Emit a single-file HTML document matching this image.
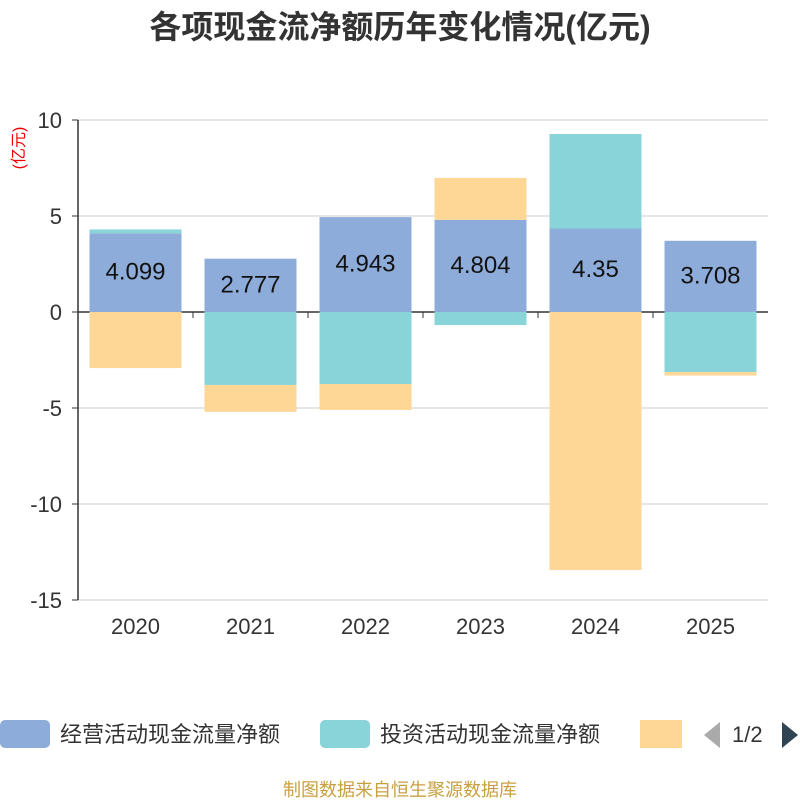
<!DOCTYPE html>
<html><head><meta charset="utf-8">
<style>
body{margin:0;background:#fff;font-family:"Liberation Sans","Noto Sans CJK SC",sans-serif;}
svg text{font-family:"Liberation Sans","Noto Sans CJK SC",sans-serif;}
</style></head>
<body>
<svg width="800" height="800" xmlns="http://www.w3.org/2000/svg" id="chart">
<text x="400" y="38" text-anchor="middle" font-size="32" font-weight="bold" fill="#333">各项现金流净额历年变化情况(亿元)</text>
<text transform="translate(24,148) rotate(-90)" text-anchor="middle" font-size="16" fill="#e00">(亿元)</text>
<g id="grid"></g>
<g id="bars"></g>
<g id="labels"></g>
<g id="axes"></g>
<g>
<rect x="0" y="720" width="50" height="28" rx="5" fill="#8eacd9"/>
<text x="60" y="742" font-size="22" fill="#333">经营活动现金流量净额</text>
<rect x="320" y="720" width="50" height="28" rx="5" fill="#88d4d8"/>
<text x="380" y="742" font-size="22" fill="#333">投资活动现金流量净额</text>
<rect x="640" y="720" width="42" height="28" fill="#fed797"/>
<polygon points="720,722 720,748 704,735" fill="#aaa"/>
<text x="732" y="742" font-size="22" fill="#333">1/2</text>
<polygon points="782,722 782,748 798,735" fill="#2f4554"/>
</g>
<text x="400" y="796" text-anchor="middle" font-size="18" fill="#c8a040">制图数据来自恒生聚源数据库</text>
</svg>
<script>
const categories=["2020","2021","2022","2023","2024","2025"];
const operating=[4.099,2.777,4.943,4.804,4.35,3.708];
const investing=[0.2,-3.8,-3.75,-0.68,4.92,-3.13];
const financing=[-2.92,-1.4,-1.35,2.18,-13.44,-0.18];
const yTicks=[10,5,0,-5,-10,-15];
const colors=["#8eacd9","#88d4d8","#fed797"];
const NS="http://www.w3.org/2000/svg";
const x0=78,x1=768,yTop=120,yBot=600,vMax=10,vMin=-15;
const y=v=>yTop+(vMax-v)*(yBot-yTop)/(vMax-vMin);
const band=(x1-x0)/categories.length;
const xc=i=>x0+band*(i+0.5);
function mk(tag,attrs,parent){const e=document.createElementNS(NS,tag);for(const k in attrs)e.setAttribute(k,attrs[k]);document.getElementById(parent).appendChild(e);return e;}
yTicks.forEach(t=>{
 const l=mk('line',{x1:x0,x2:x1,y1:y(t),y2:y(t),stroke:t===0?'#333':'#ccc','stroke-width':t===0?1.5:1},'grid');
 
 
 const tk=mk('line',{x1:x0-6,x2:x0,y1:y(t),y2:y(t),stroke:'#333'},'axes');
 
 
 const tx=mk('text',{x:x0-16,y:y(t)+8,'text-anchor':'end','font-size':22,fill:'#333'},'axes');
 tx.textContent=t;
 
 
});
const ax=mk('line',{x1:x0,x2:x0,y1:yTop,y2:yBot,stroke:'#333','stroke-width':1.5},'axes');


categories.forEach((c,i)=>{
 const tk=mk('line',{x1:x0+band*i,x2:x0+band*i,y1:y(0),y2:y(0)+6,stroke:'#333'},'axes');
 
 
 const tx=mk('text',{x:xc(i),y:y(vMin)+34,'text-anchor':'middle','font-size':22,fill:'#333'},'axes');
 tx.textContent=c;
 
 
});
const series=[operating,investing,financing];
const names=['operating','investing','financing'];
const bw=92;
categories.forEach((c,i)=>{
 let pos=0,neg=0;
 series.forEach((s,k)=>{
  const v=s[i];let a,b;
  if(v>=0){a=pos;b=pos+v;pos=b;}else{a=neg;b=neg+v;neg=b;}
  const r=mk('rect',{x:xc(i)-bw/2,y:Math.min(y(a),y(b)),width:bw,height:Math.abs(y(a)-y(b)),fill:colors[k]},'bars');
  
  
 });
 const t=mk('text',{x:xc(i),y:y(operating[i]/2)+7,'text-anchor':'middle','font-size':24,fill:'#111'},'labels');
 t.textContent=operating[i];
 
 
});
</script>
</body></html>
